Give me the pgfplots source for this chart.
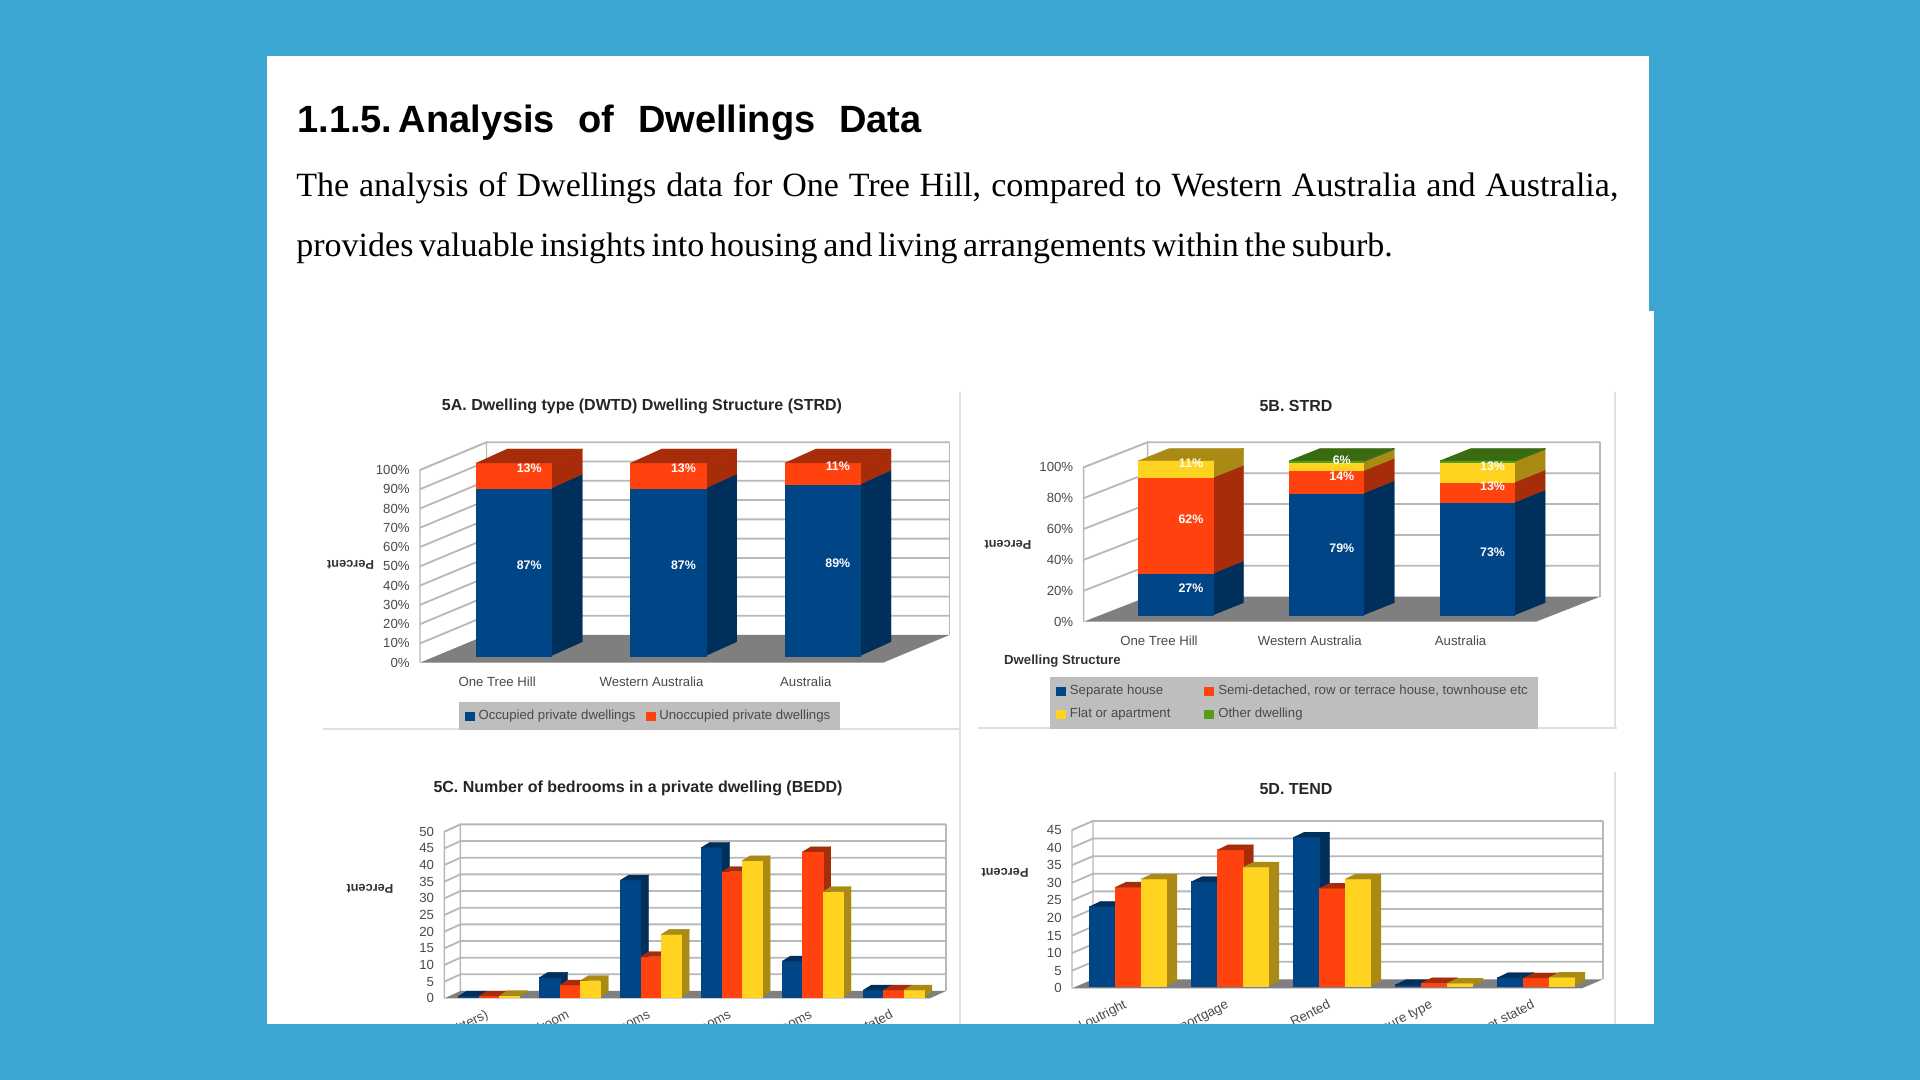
\documentclass[border=0pt]{standalone}
\usepackage{pgfplots}
\pgfplotsset{compat=1.18}
\usepackage{fontspec}
\setmainfont{Liberation Sans}
\newfontfamily\serifbody{Liberation Serif}
\definecolor{bgblue}{HTML}{3BA6D1}
\definecolor{cb}{HTML}{004586}
\definecolor{co}{HTML}{FF420E}
\definecolor{cy}{HTML}{FFD320}
\definecolor{cg}{HTML}{579D1C}
\definecolor{db}{HTML}{002F5B}
\definecolor{do}{HTML}{A62C0A}
\definecolor{dy}{HTML}{A88A14}
\definecolor{dg}{HTML}{3A6A12}
\definecolor{floorc}{HTML}{7F7F7F}
\definecolor{gridc}{HTML}{B8B8B8}
\definecolor{legc}{HTML}{BEBEBE}
\definecolor{txtc}{HTML}{4A4A4A}
\newcommand\PXY[2]{({#1*0.5pt},{(1080-#2)*0.5pt})}
% panel frame in pixels: left right top bottom
\newcommand\setpanel[4]{%
  \pgfmathsetlengthmacro\PL{#1*0.5pt}\pgfmathsetlengthmacro\PB{(1080-#4)*0.5pt}%
  \pgfmathsetlengthmacro\PW{(#2-#1)*0.5pt}\pgfmathsetlengthmacro\PH{(#4-#3)*0.5pt}}
% pixel to data scale: pxPerX pxPerY wallDx wallDy barOx barOy barW barDx barDy
\newcommand\cfg[9]{%
  \pgfmathsetmacro\Dx{#3/#1}\pgfmathsetmacro\Dy{#4/#2}%
  \pgfmathsetmacro\Ox{#5/#1}\pgfmathsetmacro\Oy{#6/#2}%
  \pgfmathsetmacro\Bw{#7/#1}\pgfmathsetmacro\Bx{#8/#1}\pgfmathsetmacro\By{#9/#2}}
\newcommand\gridln[1]{%
  \pgfmathsetmacro\gxa{\Xa}\pgfmathsetmacro\gxb{\Xa+\Dx}\pgfmathsetmacro\gxc{\Xb+\Dx}\pgfmathsetmacro\gy{#1+\Dy}%
  \edef\tmp{\noexpand\addplot[draw=gridc,line width=0.9pt,forget plot] coordinates {(\gxa,#1)(\gxb,\gy)(\gxc,\gy)};}\tmp}
\newcommand\walls[1]{%
  \pgfmathsetmacro\gxb{\Xa+\Dx}\pgfmathsetmacro\gxc{\Xb+\Dx}\pgfmathsetmacro\gyt{\Yt+\Dy}%
  \edef\tmp{\noexpand\addplot[draw=gridc,line width=0.7pt,forget plot] coordinates {(\Xa,0)(\Xa,\Yt)(\gxb,\gyt)(\gxb,\Dy)};}\tmp
  \edef\tmp{\noexpand\addplot[draw=gridc,line width=0.7pt,forget plot] coordinates {(\gxc,\Dy)(\gxc,\gyt)};}\tmp
  \pgfplotsforeachungrouped \gv in {#1}{\gridln{\gv}}%
  \pgfmathsetmacro\gxd{\Xb}%
  \edef\tmp{\noexpand\addplot[fill=floorc,draw=none,forget plot] coordinates {(\Xa,0)(\Xb,0)(\gxc,\Dy)(\gxb,\Dy)};}\tmp}
\newcommand\seg[5]{%
  \pgfmathsetmacro\xl{#1+\Ox-\Bw/2}\pgfmathsetmacro\xr{\xl+\Bw}\pgfmathsetmacro\xs{\xr+\Bx}%
  \pgfmathsetmacro\ya{#2+\Oy}\pgfmathsetmacro\yb{#3+\Oy}\pgfmathsetmacro\yc{\ya+\By}\pgfmathsetmacro\yd{\yb+\By}%
  \edef\tmp{\noexpand\addplot[fill=#5,draw=#5,line width=0.15pt,forget plot] coordinates {(\xr,\ya)(\xs,\yc)(\xs,\yd)(\xr,\yb)};}\tmp
  \edef\tmp{\noexpand\addplot[fill=#4,draw=#4,line width=0.15pt,forget plot] coordinates {(\xl,\ya)(\xr,\ya)(\xr,\yb)(\xl,\yb)};}\tmp}
\newcommand\tp[3]{%
  \pgfmathsetmacro\xl{#1+\Ox-\Bw/2}\pgfmathsetmacro\xr{\xl+\Bw}\pgfmathsetmacro\xs{\xr+\Bx}\pgfmathsetmacro\xt{\xl+\Bx}%
  \pgfmathsetmacro\yb{#2+\Oy}\pgfmathsetmacro\yd{\yb+\By}%
  \edef\tmp{\noexpand\addplot[fill=#3,draw=#3,line width=0.15pt,forget plot] coordinates {(\xl,\yb)(\xr,\yb)(\xs,\yd)(\xt,\yd)};}\tmp}
% data label in white, centred on the 3-D bar
\newcommand\lab[3]{%
  \pgfmathsetmacro\lx{#1+\Ox+\Bx/2}\pgfmathsetmacro\ly{#2+\Oy+\By/2}%
  \edef\tmp{\noexpand\node[text=white,font=\noexpand\fontsize{6.2}{7}\noexpand\selectfont\noexpand\bfseries,inner sep=0pt] at (axis cs:\lx,\ly) {#3};}\tmp}
\newcommand\gbar[4]{%
  \pgfmathsetmacro\xca{#1-\Bw}\pgfmathsetmacro\xcb{#1}\pgfmathsetmacro\xcc{#1+\Bw}%
  \let\xcA\xca\let\xcB\xcb\let\xcC\xcc
  \seg{\xcA}{0}{#2}{cb}{db}\tp{\xcA}{#2}{db}%
  \seg{\xcB}{0}{#3}{co}{do}\tp{\xcB}{#3}{do}%
  \seg{\xcC}{0}{#4}{cy}{dy}\tp{\xcC}{#4}{dy}}
\pgfplotsset{
  panel/.style={scale only axis,at={(\PL,\PB)},anchor=south west,width=\PW,height=\PH,clip=false,
    axis line style={draw=none},major tick length=0pt,tick style={draw=none},
    xmin=\Xa,xmax=\Xb,ymin=0,ymax=\Yt,
    /pgf/number format/assume math mode=true,
    ticklabel style={font=\fontsize{6.6}{8}\selectfont,text=txtc,inner sep=0pt},
    yticklabel shift=5pt,
    title style={font=\fontsize{8}{10}\selectfont\bfseries,text=black!85,anchor=center,inner sep=0pt},
    every axis y label/.append style={font=\fontsize{6.4}{8}\selectfont\bfseries,text=black!80,rotate=90,anchor=center,inner sep=0pt},
    legend style={font=\fontsize{6.6}{8}\selectfont,text=txtc,fill=legc,draw=none,anchor=center,row sep=1.5pt},
    legend cell align=left,
    legend image code/.code={\fill[#1] (0pt,-2pt) rectangle (4.5pt,2pt);},
  }
}
\begin{document}
\begin{tikzpicture}[x=1pt,y=1pt]
\path[use as bounding box] (0,0) rectangle (960pt,540pt);
\fill[bgblue] (0,0) rectangle (960pt,540pt);
\fill[white] \PXY{267}{56} rectangle \PXY{1649}{311};
\fill[white] \PXY{267}{311} rectangle \PXY{1654}{1030};
% heading and paragraph
\node[anchor=base west,inner sep=0pt] at \PXY{297}{133} {\makebox[312pt][s]{\fontsize{19}{22}\selectfont\bfseries 1.1.5.\,Analysis of Dwellings Data}};
\node[anchor=base west,inner sep=0pt] at \PXY{296}{197} {\makebox[661pt][s]{\serifbody\fontsize{17}{20}\selectfont The analysis of Dwellings data for One Tree Hill, compared to Western Australia and Australia,}};
\node[anchor=base west,inner sep=0pt] at \PXY{296}{257} {\makebox[474pt][s]{\serifbody\fontsize{17}{20}\selectfont provides valuable insights into housing and living arrangements within the suburb.}};
% panel separators
\draw[black!12,line width=0.7pt] \PXY{960}{392} -- \PXY{960}{1024};
\draw[black!12,line width=0.7pt] \PXY{1615}{392} -- \PXY{1615}{728};
\draw[black!12,line width=0.7pt] \PXY{1615}{772} -- \PXY{1615}{1024};
\draw[black!12,line width=0.7pt] \PXY{323}{729} -- \PXY{960}{729};
\draw[black!12,line width=0.7pt] \PXY{978}{728} -- \PXY{1617}{728};

% ---------- 5A
\def\Xa{-0.5}\def\Xb{2.5}\def\Yt{100}
\setpanel{420}{883}{470}{662.7}
\cfg{154.33}{1.927}{66.5}{27.7}{16.5}{7}{75.5}{31}{14}
\begin{axis}[panel,
  xtick={0,1,2},xticklabels={One Tree Hill,Western Australia,Australia},xticklabel shift=7pt,
  ytick={0,10,...,100},yticklabel={\pgfmathprintnumber{\tick}\%},
  title={5A. Dwelling type (DWTD) Dwelling Structure (STRD)},
  title style={at={({(642-420)/463},{(662.7-418)/192.7})}},
  ylabel={Percent},every axis y label/.append style={at={({(350.6-420)/463},{(662.7-565)/192.7})}},
  legend columns=2,legend style={at={({(649.5-420)/463},{-(716-662.7)/192.7})},/tikz/every even column/.append style={column sep=3pt}},
]
\walls{10,20,...,100}
\addlegendimage{cb}\addlegendentry{Occupied private dwellings}
\addlegendimage{co}\addlegendentry{Unoccupied private dwellings}
\seg{0}{0}{87}{cb}{db}\seg{0}{87}{100}{co}{do}\tp{0}{100}{do}
\seg{1}{0}{87}{cb}{db}\seg{1}{87}{100}{co}{do}\tp{1}{100}{do}
\seg{2}{0}{89}{cb}{db}\seg{2}{89}{100}{co}{do}\tp{2}{100}{do}
\lab{0}{43.5}{87\%}\lab{0}{93.5}{13\%}
\lab{1}{43.5}{87\%}\lab{1}{93.5}{13\%}
\lab{2}{44.5}{89\%}\lab{2}{94.5}{11\%}
\end{axis}

% ---------- 5B
\def\Xa{-0.5}\def\Xb{2.5}\def\Yt{100}
\setpanel{1083.6}{1536}{467.3}{621.7}
\cfg{150.8}{1.544}{64}{25}{16.6}{6.7}{74.4}{30.7}{12.3}
\begin{axis}[panel,
  xtick={0,1,2},xticklabels={One Tree Hill,Western Australia,Australia},xticklabel shift=7pt,
  ytick={0,20,...,100},yticklabel={\pgfmathprintnumber{\tick}\%},
  title={5B. STRD},
  title style={at={({(1296-1083.6)/452.4},{(621.7-418)/154.4})}},
  ylabel={Percent},every axis y label/.append style={at={({(1008-1083.6)/452.4},{(621.7-545)/154.4})}},
  legend columns=2,legend style={at={({(1294-1083.6)/452.4},{-(702.8-621.7)/154.4})},/tikz/every even column/.append style={column sep=15pt}},
]
\walls{20,40,...,100}
\addlegendimage{cb}\addlegendentry{Separate house}
\addlegendimage{co}\addlegendentry{Semi-detached, row or terrace house, townhouse etc}
\addlegendimage{cy}\addlegendentry{Flat or apartment}
\addlegendimage{cg}\addlegendentry{Other dwelling}
\seg{0}{0}{27}{cb}{db}\seg{0}{27}{89}{co}{do}\seg{0}{89}{100}{cy}{dy}\tp{0}{100}{dy}
\seg{1}{0}{79}{cb}{db}\seg{1}{79}{93.5}{co}{do}\seg{1}{93.5}{99.3}{cy}{dy}\seg{1}{99.3}{100}{cg}{dg}\tp{1}{100}{dg}
\seg{2}{0}{73}{cb}{db}\seg{2}{73}{86}{co}{do}\seg{2}{86}{99.3}{cy}{dy}\seg{2}{99.3}{100}{cg}{dg}\tp{2}{100}{dg}
\lab{0}{13.5}{27\%}\lab{0}{58}{62\%}\lab{0}{94.5}{11\%}
\lab{1}{39.5}{79\%}\lab{1}{86}{14\%}\lab{1}{96.5}{6\%}
\lab{2}{36.5}{73\%}\lab{2}{79.5}{13\%}\lab{2}{92.5}{13\%}
\node[anchor=west,inner sep=0pt,font=\fontsize{6.6}{8}\selectfont\bfseries,text=black!80] at (rel axis cs:{(1003.7-1083.6)/452.4},{-(660.7-621.7)/154.4}) {Dwelling Structure};
\end{axis}

% ---------- 5C
\def\Xa{-0.5}\def\Xb{5.5}\def\Yt{50}
\setpanel{444.4}{930}{831.7}{998.3}
\cfg{80.93}{3.332}{16}{7.3}{4}{1.6}{20.3}{8}{5}
\begin{axis}[panel,
  xtick={0,...,5},xticklabels={None (includes bedsitters),1 bedroom,2 bedrooms,3 bedrooms,4 or more bedrooms,Not stated},
  xticklabel style={rotate=27,anchor=north east},xticklabel shift=5pt,
  ytick={0,5,...,50},
  title={5C. Number of bedrooms in a private dwelling (BEDD)},
  title style={at={({(638-444.4)/485.6},{(998.3-800.7)/166.6})}},
  ylabel={Percent},every axis y label/.append style={at={({(370-444.4)/485.6},{(998.3-889)/166.6})}},
]
\walls{5,10,...,50}
\gbar{0}{0.2}{0.2}{0.3}
\gbar{1}{5.8}{3.5}{4.8}
\gbar{2}{35}{12}{18.7}
\gbar{3}{44.8}{37.5}{40.8}
\gbar{4}{10.7}{43.5}{31.5}
\gbar{5}{2}{2}{2}
\end{axis}

% ---------- 5D
\def\Xa{-0.5}\def\Xb{4.5}\def\Yt{45}
\setpanel{1072}{1582}{830}{988.3}
\cfg{102}{3.518}{21}{9}{5}{2.3}{25.7}{10.4}{5}
\begin{axis}[panel,
  xtick={0,...,4},xticklabels={Owned outright,Owned with a mortgage,Rented,Other tenure type,Tenure type not stated},
  xticklabel style={rotate=27,anchor=north east},xticklabel shift=5pt,
  ytick={0,5,...,45},
  title={5D. TEND},
  title style={at={({(1296-1072)/510},{(988.3-800.7)/158.3})}},
  ylabel={Percent},every axis y label/.append style={at={({(1005-1072)/510},{(988.3-873)/158.3})}},
]
\walls{5,10,...,45}
\gbar{0}{22.6}{28.1}{30.4}
\gbar{1}{29.7}{38.7}{33.8}
\gbar{2}{42.3}{27.8}{30.4}
\gbar{3}{0.4}{0.9}{0.8}
\gbar{4}{2.4}{2.3}{2.5}
\end{axis}

% page cut-off at the bottom of the slide
\fill[bgblue] \PXY{0}{1024} rectangle \PXY{1920}{1080};
\end{tikzpicture}
\end{document}
